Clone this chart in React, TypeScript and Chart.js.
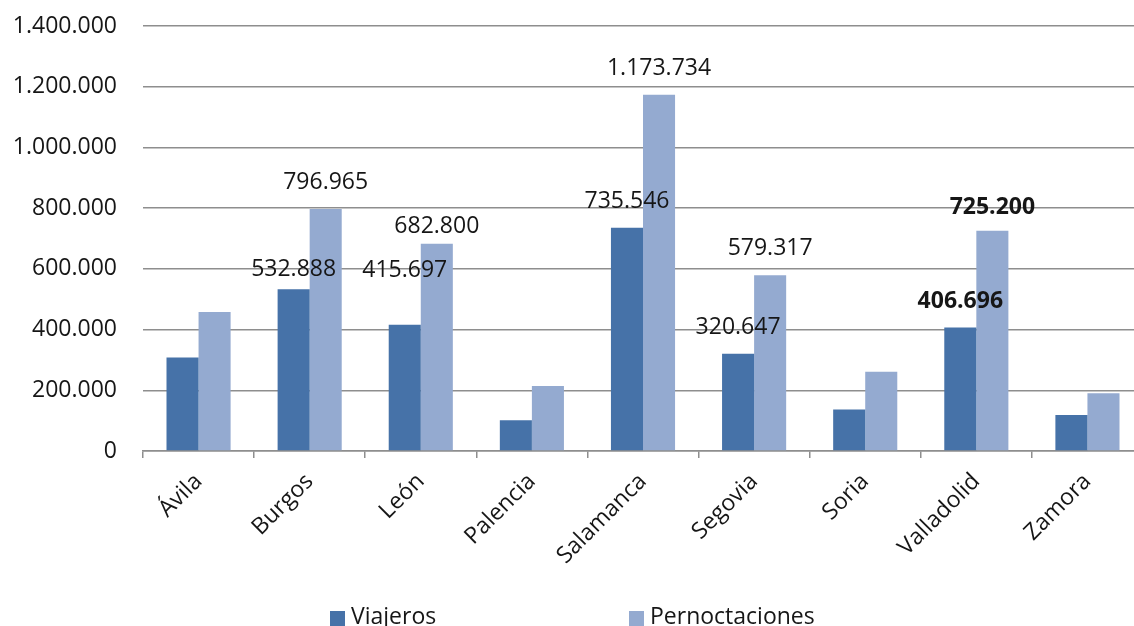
import React, { useEffect, useRef } from 'react';
import { Chart, registerables } from 'chart.js';

Chart.register(...registerables);

// ---- data ----
const provinces = ['Ávila', 'Burgos', 'León', 'Palencia', 'Salamanca', 'Segovia', 'Soria', 'Valladolid', 'Zamora'];
const viajeros = [308000, 532888, 415697, 101000, 735546, 320647, 137000, 406696, 119000];
const pernoctaciones = [458000, 796965, 682800, 214000, 1173734, 579317, 261000, 725200, 190000];
const seriesNames = ['Viajeros', 'Pernoctaciones'];
const labeledProvinces = ['Burgos', 'León', 'Salamanca', 'Segovia', 'Valladolid'];
const boldProvinces = ['Valladolid'];
const yMin = 0;
const yMax = 1400000;
const yStep = 200000;

// ---- style ----
const seriesColors = ['#4672A8', '#94AAD0'];
const FONT = '"Open Sans", "Noto Sans", sans-serif';
const TEXT = '#161616';
const GRID = '#8e8e8e';
// distance (px) between a value label's baseline and its bar top; default plus manual placements
const LABEL_GAP = 20;
const labelGapOverrides: Record<string, number> = {
  'Burgos/0': 13,
  'León/0': 48,
  'León/1': 11,
  'Valladolid/1': 17,
};

const fmt = (v: number) => String(Math.round(v)).replace(/\B(?=(\d{3})+(?!\d))/g, '.');

const valueLabels = {
  id: 'valueLabels',
  afterDatasetsDraw(chart: any) {
    const ctx = chart.ctx;
    chart.data.datasets.forEach((ds: any, di: number) => {
      const meta = chart.getDatasetMeta(di);
      meta.data.forEach((bar: any, i: number) => {
        const cat = chart.data.labels[i];
        if (!labeledProvinces.includes(cat)) return;
        const bold = boldProvinces.includes(cat);
        const key = `${cat}/${di}`;
        const gap = key in labelGapOverrides ? labelGapOverrides[key] : LABEL_GAP;
        ctx.save();
        ctx.font = `${bold ? 'bold ' : ''}23px ${FONT}`;
        ctx.fillStyle = TEXT;
        ctx.textAlign = 'center';
        ctx.textBaseline = 'alphabetic';
        ctx.fillText(fmt(ds.data[i]), bar.x, bar.y - gap);
        ctx.restore();
      });
    });
  },
};

export default function App() {
  const canvasRef = useRef<HTMLCanvasElement | null>(null);

  useEffect(() => {
    if (!canvasRef.current) return;
    const chart = new Chart(canvasRef.current, {
      type: 'bar',
      data: {
        labels: provinces,
        datasets: [
          {
            label: seriesNames[0],
            data: viajeros,
            backgroundColor: seriesColors[0],
            categoryPercentage: 0.577,
            barPercentage: 1,
          },
          {
            label: seriesNames[1],
            data: pernoctaciones,
            backgroundColor: seriesColors[1],
            categoryPercentage: 0.577,
            barPercentage: 1,
          },
        ],
      },
      options: {
        animation: false,
        responsive: true,
        maintainAspectRatio: false,
        layout: { padding: { left: 0, right: 6, top: 26, bottom: 0 } },
        plugins: {
          legend: { display: false },
          tooltip: { enabled: false },
        },
        scales: {
          x: {
            afterFit: (scale: any) => {
              scale.height = 149;
            },
            grid: {
              offset: true,
              drawOnChartArea: false,
              drawTicks: true,
              tickLength: 7,
              color: GRID,
              lineWidth: 1.5,
            },
            border: { display: true, color: GRID, width: 1.5 },
            ticks: {
              autoSkip: false,
              maxRotation: 45,
              minRotation: 45,
              padding: 10,
              color: TEXT,
              font: { family: FONT, size: 23 },
            },
          },
          y: {
            min: yMin,
            max: yMax,
            afterFit: (scale: any) => {
              scale.width = 143;
              scale.paddingTop = 0;
              scale.paddingBottom = 0;
            },
            grid: { color: GRID, lineWidth: 1.5, drawTicks: false },
            border: { display: false },
            ticks: {
              stepSize: yStep,
              padding: 26,
              color: TEXT,
              font: { family: FONT, size: 23 },
              callback: (v: any) => fmt(Number(v)),
            },
          },
        },
      },
      plugins: [valueLabels],
    });
    return () => chart.destroy();
  }, []);

  const legendLefts = [330, 629];

  return (
    <div
      style={{
        position: 'fixed',
        left: 0,
        top: 0,
        width: 1134,
        height: 626,
        overflow: 'hidden',
        background: '#fff',
      }}
    >
      <div style={{ position: 'absolute', left: 0, top: 0, width: 1149, height: 600 }}>
        <canvas ref={canvasRef} />
      </div>
      {seriesNames.map((name, i) => (
        <div key={name}>
          <div
            style={{
              position: 'absolute',
              left: legendLefts[i],
              top: 611,
              width: 15,
              height: 15,
              background: seriesColors[i],
            }}
          />
          <div
            style={{
              position: 'absolute',
              left: legendLefts[i] + 21,
              top: 600,
              fontFamily: FONT,
              fontSize: 23,
              lineHeight: '31px',
              color: TEXT,
              whiteSpace: 'nowrap',
            }}
          >
            {name}
          </div>
        </div>
      ))}
    </div>
  );
}
